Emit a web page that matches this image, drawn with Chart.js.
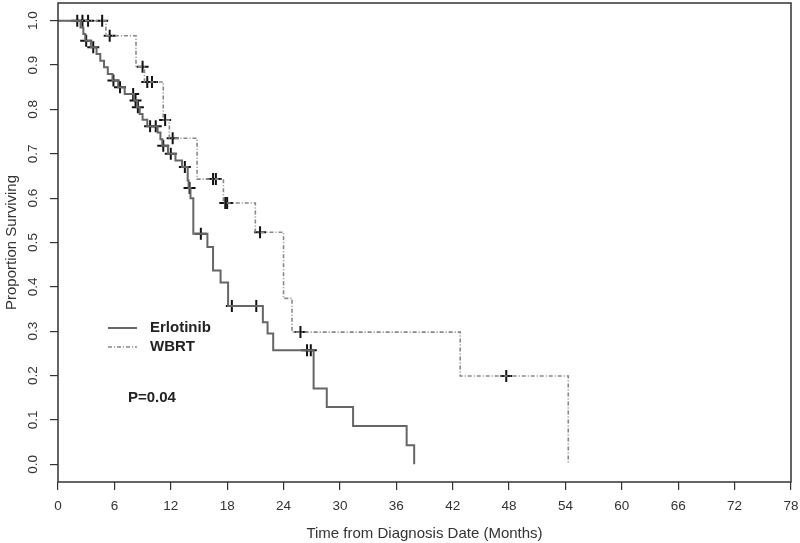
<!DOCTYPE html>
<html>
<head>
    <script src="https://cdn.jsdelivr.net/npm/chart.js@4.4.0/dist/chart.umd.min.js"></script>
    <style>
        body {
            margin: 0;
            background: #fff;
        }

        #wrap {
            position: relative;
            width: 800px;
            height: 543px;
        }
    </style>
    <title>Proportion Surviving</title>
</head>
<body>
    <div id="wrap"><canvas id="km"></canvas></div>

    <script>
        // tick values
        var xTicks = [0, 6, 12, 18, 24, 30, 36, 42, 48, 54, 60, 66, 72, 78];
        var yTicks = [0, 0.1, 0.2, 0.3, 0.4, 0.5, 0.6, 0.7, 0.8, 0.9, 1.0];

        // Erlotinib survival steps (months, proportion after the drop)
        var erlTime = [0, 2.4, 2.7, 2.9, 3.5, 4.1, 4.5, 4.9, 5.3, 5.8, 6.4, 7.1, 8.1, 8.4, 8.7, 9.0, 9.5, 10.6, 10.9, 11.1,
            11.7, 12.5, 13.2, 13.8, 13.9, 14.1, 14.4, 15.9, 16.5, 17.3, 18.1, 21.8, 22.3, 22.9, 27.2, 28.6, 31.4, 37.1, 37.9];
        var erlSurv = [1.0, 0.985, 0.97, 0.955, 0.94, 0.925, 0.91, 0.895, 0.88, 0.865, 0.85, 0.835, 0.82, 0.805, 0.79, 0.777, 0.762, 0.748, 0.733, 0.718,
            0.70, 0.685, 0.67, 0.64, 0.623, 0.60, 0.52, 0.49, 0.437, 0.41, 0.357, 0.32, 0.295, 0.257, 0.171, 0.129, 0.086, 0.043, 0.0];
        // Erlotinib censored
        var erlCensTime = [2.05, 2.6, 3.0, 3.75, 5.9, 6.6, 8.0, 8.25, 8.5, 9.8, 10.4, 11.2, 12.0, 13.5, 14.0, 15.2, 18.5, 21.1, 26.5, 26.9];
        var erlCensSurv = [1.0, 1.0, 0.955, 0.94, 0.865, 0.85, 0.835, 0.82, 0.805, 0.762, 0.762, 0.718, 0.70, 0.67, 0.623, 0.52, 0.357, 0.357, 0.257, 0.257];

        // WBRT survival steps
        var wbrtTime = [0, 5.1, 8.3, 9.2, 11.2, 11.85, 14.8, 17.6, 21.0, 24.0, 24.9, 42.8, 54.3];
        var wbrtSurv = [1.0, 0.966, 0.896, 0.862, 0.776, 0.735, 0.643, 0.589, 0.523, 0.374, 0.298, 0.199, 0.0];
        // WBRT censored
        var wbrtCensTime = [3.2, 4.7, 5.5, 9.0, 9.5, 10.0, 11.4, 12.2, 16.5, 16.8, 17.8, 18.0, 21.5, 25.8, 47.7];
        var wbrtCensSurv = [1.0, 1.0, 0.966, 0.896, 0.862, 0.862, 0.776, 0.735, 0.643, 0.643, 0.589, 0.589, 0.523, 0.298, 0.199];

        var FONT = "'Liberation Sans', Arial, sans-serif";

        function pts(t, s) {
            var out = [];
            for (var i = 0; i < t.length; i++) out.push({ x: t[i], y: s[i] });
            return out;
        }

        // box, rotated y labels, legend and p value
        var extras = {
            id: 'extras',
            afterDraw: function (chart) {
                var ctx = chart.ctx;
                var a = chart.chartArea;
                var ys = chart.scales.y;
                ctx.save();
                ctx.strokeStyle = '#333';
                ctx.lineWidth = 1.5;
                ctx.strokeRect(a.left, a.top, a.right - a.left, a.bottom - a.top);

                ctx.fillStyle = '#333';
                ctx.textAlign = 'center';
                ctx.textBaseline = 'middle';
                ctx.font = '13.5px ' + FONT;
                for (var i = 0; i < yTicks.length; i++) {
                    var py = ys.getPixelForValue(yTicks[i]);
                    ctx.save();
                    ctx.translate(33, py);
                    ctx.rotate(-Math.PI / 2);
                    ctx.fillText(yTicks[i].toFixed(1), 0, 0);
                    ctx.restore();
                }
                ctx.save();
                ctx.font = '15px ' + FONT;
                ctx.translate(12, (a.top + a.bottom) / 2);
                ctx.rotate(-Math.PI / 2);
                ctx.fillText('Proportion Surviving', 0, 0);
                ctx.restore();

                // legend
                ctx.lineWidth = 2;
                ctx.strokeStyle = '#666';
                ctx.beginPath();
                ctx.moveTo(108, 328);
                ctx.lineTo(137, 328);
                ctx.stroke();
                ctx.lineWidth = 1.6;
                ctx.strokeStyle = '#888';
                ctx.setLineDash([4, 2, 1, 2]);
                ctx.beginPath();
                ctx.moveTo(108, 347);
                ctx.lineTo(137, 347);
                ctx.stroke();
                ctx.setLineDash([]);

                ctx.fillStyle = '#222';
                ctx.textAlign = 'left';
                ctx.font = 'bold 15px ' + FONT;
                ctx.fillText('Erlotinib', 150, 328);
                ctx.fillText('WBRT', 150, 347);
                ctx.fillText('P=0.04', 128, 398);
                ctx.restore();
            }
        };

        new Chart(document.getElementById('km'), {
            type: 'scatter',
            data: {
                datasets: [{
                    label: 'Erlotinib',
                    data: pts(erlTime, erlSurv),
                    showLine: true,
                    stepped: 'before',
                    borderColor: '#666',
                    borderWidth: 2,
                    pointRadius: 0
                }, {
                    label: 'WBRT',
                    data: pts(wbrtTime, wbrtSurv),
                    showLine: true,
                    stepped: 'before',
                    borderColor: '#888',
                    borderWidth: 1.6,
                    borderDash: [4, 2, 1, 2],
                    pointRadius: 0
                }, {
                    label: 'Erlotinib censored',
                    data: pts(erlCensTime, erlCensSurv),
                    pointStyle: 'cross',
                    pointRadius: 6,
                    borderWidth: 2,
                    borderColor: '#111'
                }, {
                    label: 'WBRT censored',
                    data: pts(wbrtCensTime, wbrtCensSurv),
                    pointStyle: 'cross',
                    pointRadius: 6,
                    borderWidth: 2,
                    borderColor: '#111'
                }]
            },
            options: {
                responsive: true,
                maintainAspectRatio: false,
                animation: false,
                layout: { autoPadding: false, padding: { left: 0, right: 9, top: 3, bottom: 0 } },
                plugins: {
                    legend: { display: false },
                    tooltip: { enabled: false }
                },
                scales: {
                    x: {
                        type: 'linear',
                        min: 0,
                        max: 78,
                        afterBuildTicks: function (s) {
                            s.ticks = xTicks.map(function (v) { return { value: v }; });
                        },
                        afterFit: function (s) {
                            s.height = 61;
                            s.paddingLeft = 0;
                            s.paddingRight = 0;
                        },
                        grid: { drawOnChartArea: false, drawTicks: true, tickLength: 8, color: '#333', lineWidth: 1.2 },
                        border: { display: false },
                        ticks: {
                            color: '#333',
                            font: { family: FONT, size: 13.5 },
                            padding: 8,
                            maxRotation: 0,
                            callback: function (v) { return String(v); }
                        },
                        title: {
                            display: true,
                            text: 'Time from Diagnosis Date (Months)',
                            color: '#333',
                            font: { family: FONT, size: 15 },
                            padding: { top: 0, bottom: 0 }
                        }
                    },
                    y: {
                        type: 'linear',
                        min: -0.04,
                        max: 1.04,
                        afterBuildTicks: function (s) {
                            s.ticks = yTicks.map(function (v) { return { value: v }; });
                        },
                        afterFit: function (s) { s.width = 58; },
                        grid: { drawOnChartArea: false, drawTicks: true, tickLength: 8, color: '#333', lineWidth: 1.2 },
                        border: { display: false },
                        ticks: { display: false }
                    }
                }
            },
            plugins: [extras]
        });
    </script>
</body>
</html>
